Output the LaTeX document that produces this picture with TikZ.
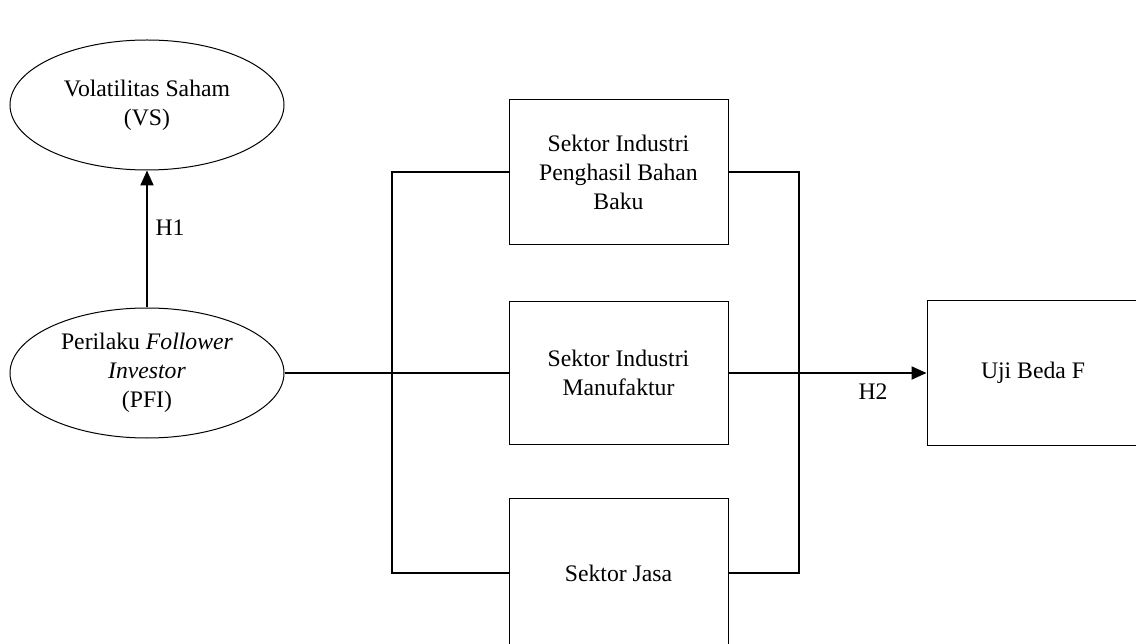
\documentclass[tikz,border=0pt]{standalone}
\usepackage{fontspec}
\setmainfont{Liberation Serif}
\usetikzlibrary{shapes.geometric,arrows.meta}
\begin{document}
\begin{tikzpicture}[x=1pt,y=-1pt,
  txt/.style={font=\fontsize{23.7pt}{29pt}\selectfont},
  oval/.style={ellipse,draw,line width=1pt,minimum width=274pt,minimum height=130pt,inner sep=0pt,align=center,txt},
  box/.style={rectangle,draw,line width=1pt,minimum width=219pt,inner sep=0pt,align=center,txt},
  conn/.style={line width=2pt},
  tip/.style={-{Triangle[length=15pt,width=13pt]}},
  lbl/.style={inner sep=0pt,txt}]
\useasboundingbox (0,0) rectangle (1136,644);
\node[oval] (vs) at (147,105) {Volatilitas Saham\\(VS)};
\node[oval] (pfi) at (147,373) {Perilaku \textit{Follower}\\\textit{Investor}\\(PFI)};
\node[box,minimum height=145pt] (b1) at (618.5,172.5) {Sektor Industri\\Penghasil Bahan\\Baku};
\node[box,minimum height=142pt] (b2) at (618.5,373) {Sektor Industri\\Manufaktur};
\node[box,minimum height=150pt] (b3) at (618.5,573) {Sektor Jasa};
\node[box,minimum width=212pt,minimum height=144pt] (b4) at (1033,373) {Uji Beda F};
\coordinate (lt) at (392,172.5);
\coordinate (lb) at (392,573);
\coordinate (rt) at (799,172.5);
\coordinate (rb) at (799,573);
\draw[conn,tip] (pfi.north) -- (vs.south);
\node[lbl] (h1) at (170,228) {H1};
\draw[conn] (pfi.east) -- (b2.west);
\draw[conn] (b1.west) -- (lt) -- (lb) -- (b3.west);
\draw[conn] (b1.east) -- (rt) -- (rb) -- (b3.east);
\draw[conn,tip] (b2.east) -- (b4.west);
\node[lbl] (h2) at (873,392) {H2};
\end{tikzpicture}
\end{document}
